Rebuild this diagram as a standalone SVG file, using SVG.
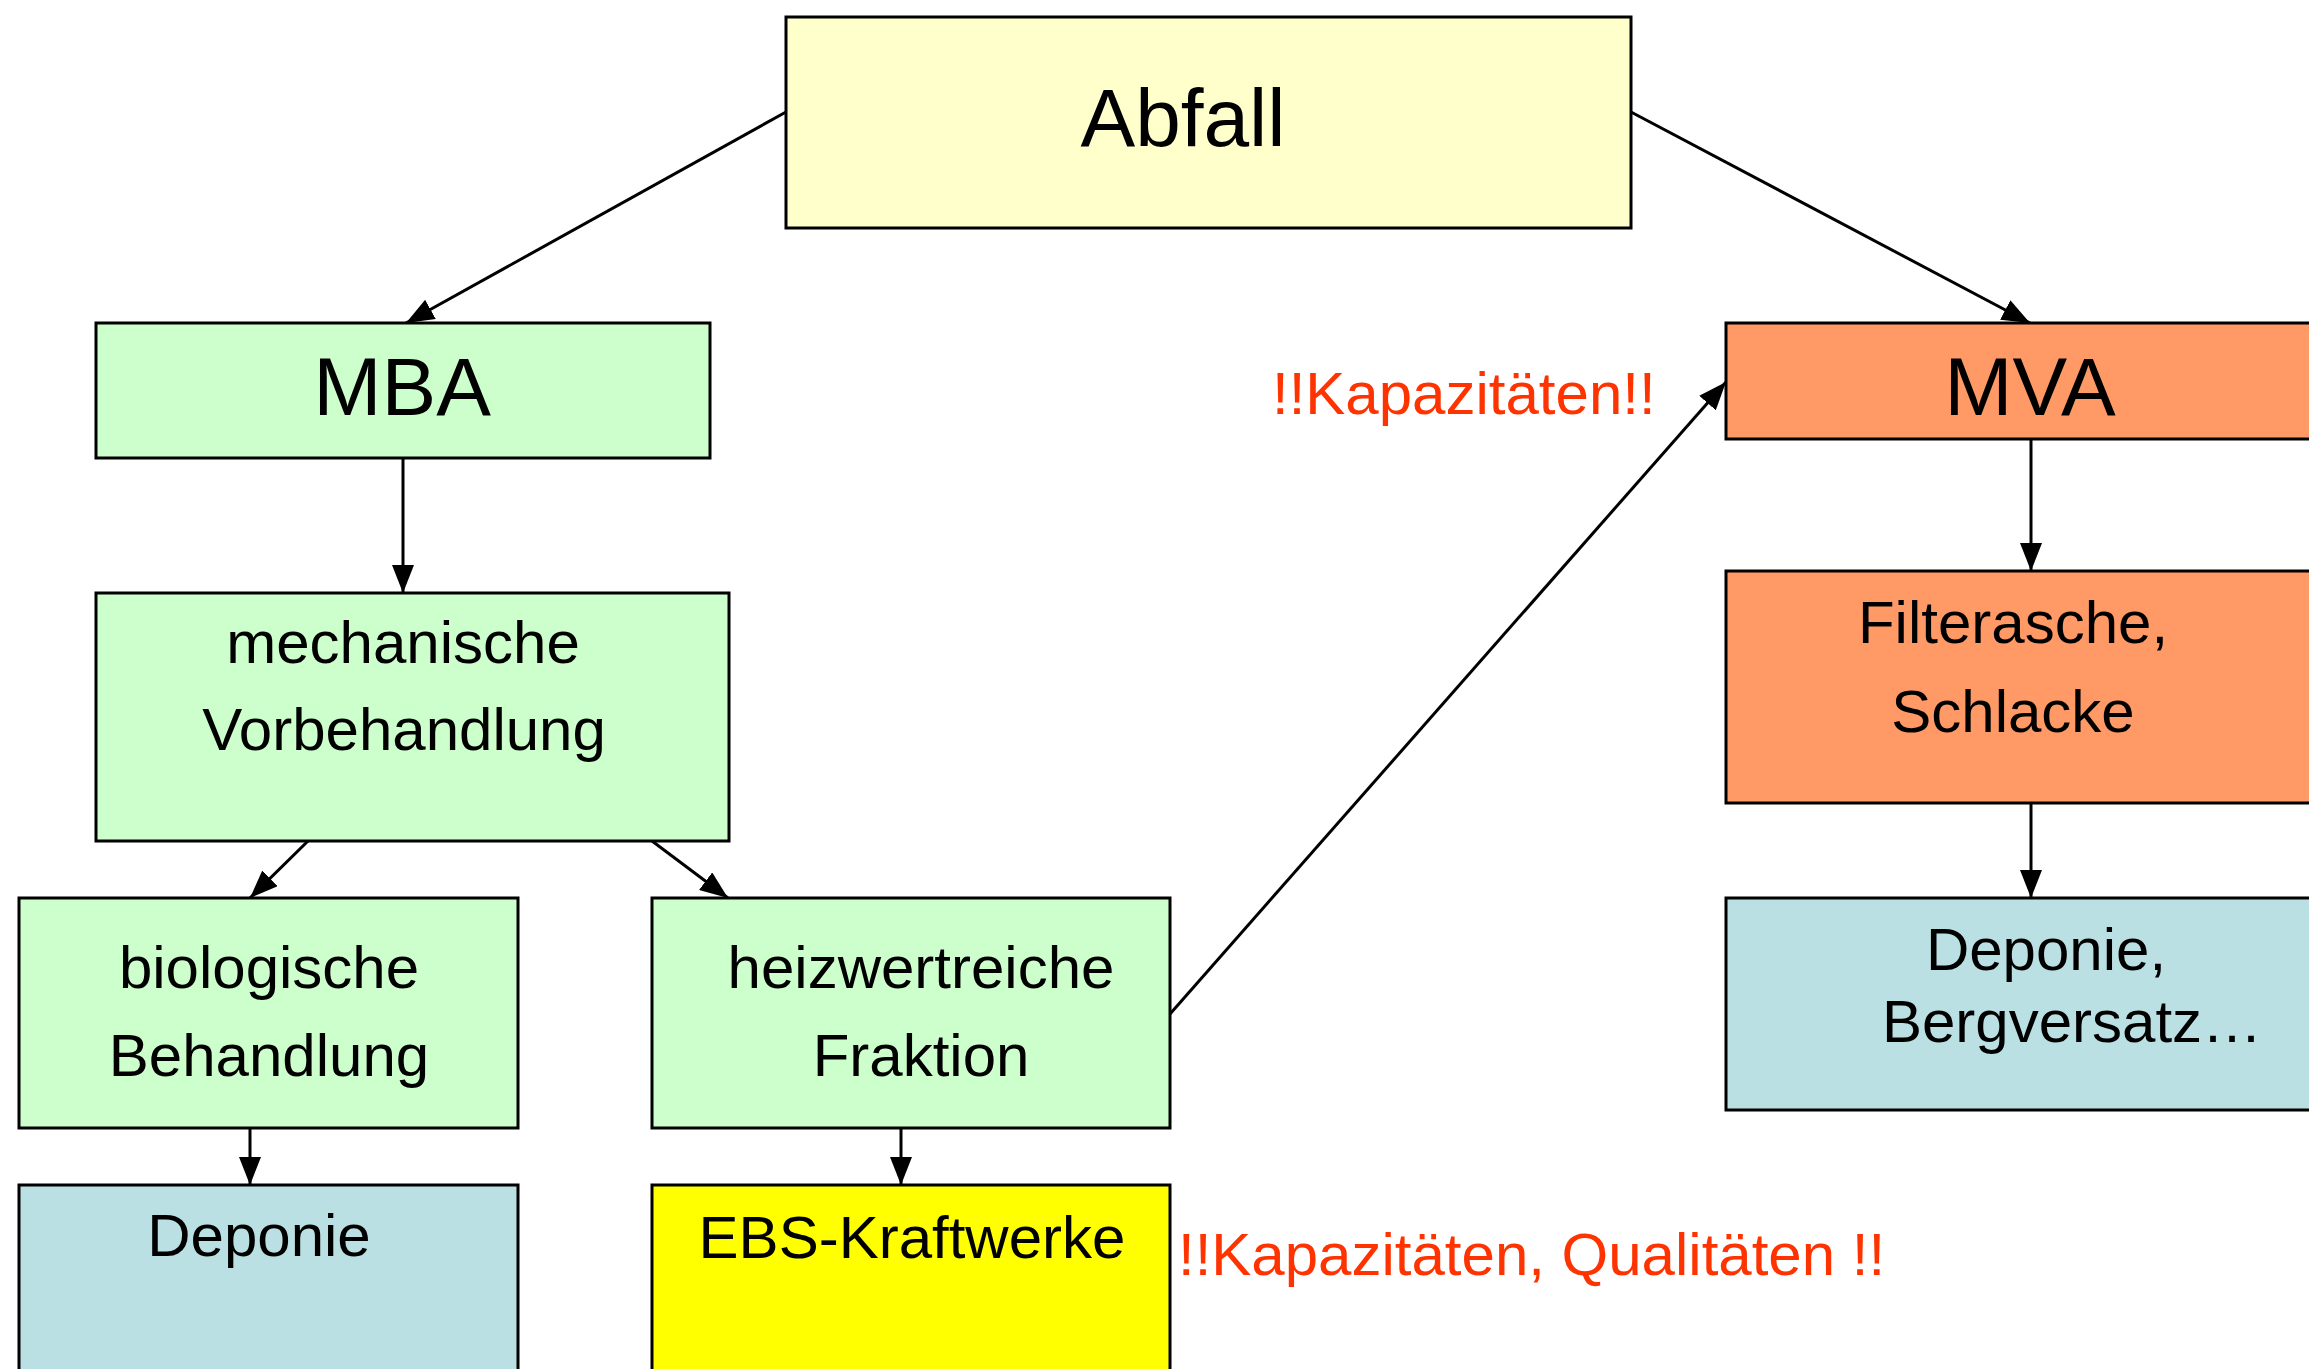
<svg xmlns="http://www.w3.org/2000/svg" width="2309" height="1369" viewBox="0 0 2309 1369">
<defs>
<style>
.box{stroke:#000;stroke-width:3}
.t{font-family:"Liberation Sans",Arial,sans-serif;fill:#000;text-anchor:middle}
.big{font-size:82px}
.mid{font-size:60px}
.red{font-family:"Liberation Sans",Arial,sans-serif;fill:#FF3300;font-size:60px}
.c{stroke:#000;stroke-width:3;fill:none;marker-end:url(#ah)}
</style>
<marker id="ah" markerUnits="userSpaceOnUse" markerWidth="30" markerHeight="22" refX="28" refY="11" orient="auto">
<path d="M0,0 L28,11 L0,22 Z" fill="#000"/>
</marker>
</defs>
<rect width="2309" height="1369" fill="#fff"/>
<g id="connectors">
<line class="c" x1="786" y1="112" x2="406" y2="323"/>
<line class="c" x1="1631" y1="112" x2="2030" y2="323"/>
<line class="c" x1="403" y1="458" x2="403" y2="593"/>
<line class="c" x1="308" y1="841" x2="250" y2="898"/>
<line class="c" x1="652" y1="841" x2="728" y2="898"/>
<line class="c" x1="250" y1="1128" x2="250" y2="1185"/>
<line class="c" x1="901" y1="1128" x2="901" y2="1185"/>
<line class="c" x1="1170" y1="1014" x2="1726" y2="382"/>
<line class="c" x1="2031" y1="439" x2="2031" y2="571"/>
<line class="c" x1="2031" y1="803" x2="2031" y2="898"/>
</g>
<g id="abfall">
<rect class="box" x="786" y="17" width="845" height="211" fill="#FFFFCC"/>
<text class="t big" x="1183" y="146">Abfall</text>
</g>
<g id="mba">
<rect class="box" x="96" y="323" width="614" height="135" fill="#CCFFCC"/>
<text class="t big" x="402" y="415">MBA</text>
</g>
<g id="mva">
<rect class="box" x="1726" y="323" width="620" height="116" fill="#FF9966"/>
<text class="t big" x="2030" y="415">MVA</text>
</g>
<g id="mech">
<rect class="box" x="96" y="593" width="633" height="248" fill="#CCFFCC"/>
<text class="t mid" x="403" y="663">mechanische</text>
<text class="t mid" x="404" y="750">Vorbehandlung</text>
</g>
<g id="bio">
<rect class="box" x="19" y="898" width="499" height="230" fill="#CCFFCC"/>
<text class="t mid" x="269" y="988">biologische</text>
<text class="t mid" x="269" y="1076">Behandlung</text>
</g>
<g id="heiz">
<rect class="box" x="652" y="898" width="518" height="230" fill="#CCFFCC"/>
<text class="t mid" x="921" y="988">heizwertreiche</text>
<text class="t mid" x="921" y="1076">Fraktion</text>
</g>
<g id="deponie1">
<rect class="box" x="19" y="1185" width="499" height="220" fill="#BBE0E3"/>
<text class="t mid" x="259" y="1256">Deponie</text>
</g>
<g id="ebs">
<rect class="box" x="652" y="1185" width="518" height="220" fill="#FFFF00"/>
<text class="t mid" x="912" y="1258">EBS-Kraftwerke</text>
</g>
<g id="filter">
<rect class="box" x="1726" y="571" width="620" height="232" fill="#FF9966"/>
<text class="t mid" x="2013" y="643">Filterasche,</text>
<text class="t mid" x="2013" y="732">Schlacke</text>
</g>
<g id="deponie2">
<rect class="box" x="1726" y="898" width="620" height="212" fill="#BBE0E3"/>
<text class="t mid" x="2046" y="970">Deponie,</text>
<text class="t mid" x="2072" y="1042">Bergversatz…</text>
</g>
<g id="labels">
<text class="red" x="1272" y="414">!!Kapazitäten!!</text>
<text class="red" x="1178" y="1275">!!Kapazitäten, Qualitäten !!</text>
</g>
</svg>
